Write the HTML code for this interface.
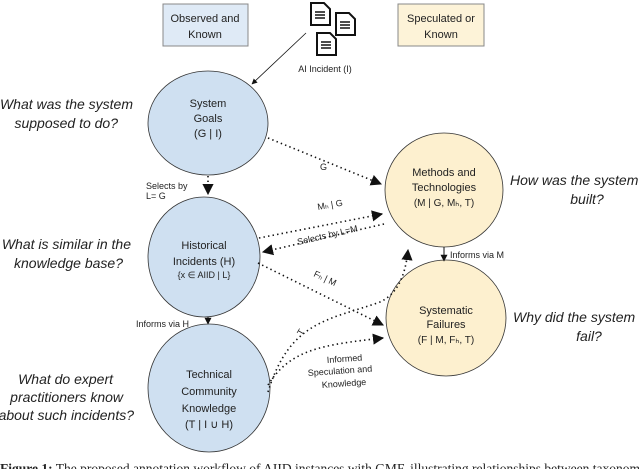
<!DOCTYPE html>
<html><head><meta charset="utf-8"><style>
html,body{margin:0;padding:0;background:#fff;}
svg{display:block;}
text{font-family:"Liberation Sans",sans-serif;fill:#222;}
.q{font-style:italic;font-size:14px;fill:#222;}
.n{font-size:11px;text-anchor:middle;}
.s{font-size:9px;}
.d{fill:none;stroke:#111;stroke-width:1.6;stroke-dasharray:1.4 3.2;}
</style></head><body>
<svg width="640" height="469" viewBox="0 0 640 469" xmlns="http://www.w3.org/2000/svg">
<defs><marker id="a" viewBox="0 0 10 10" refX="9" refY="5" markerWidth="7" markerHeight="7" orient="auto"><path d="M0,0L10,5L0,10z" fill="#111"/></marker></defs>
<rect x="163" y="4" width="85" height="42" fill="#dfeaf6" stroke="#888" stroke-width="1"/>
<text class="n" x="205" y="22">Observed and</text><text class="n" x="205" y="38">Known</text>
<rect x="398" y="4" width="86" height="42" fill="#fdf3d8" stroke="#888" stroke-width="1"/>
<text class="n" x="441" y="22">Speculated or</text><text class="n" x="441" y="38">Known</text>
<g fill="#fff" stroke="#111" stroke-width="2">
<path d="M311,3h13l6,6v16h-19z"/><path d="M336,13h13l6,6v16h-19z"/><path d="M317,33h13l6,6v16h-19z"/>
</g>
<g stroke="#111" stroke-width="1.5"><path d="M315,12h10M315,15h10M315,18h10M340,22h10M340,25h10M340,28h10M321,42h10M321,45h10M321,48h10"/></g>
<text x="325" y="72" class="n" style="font-size:9px">AI Incident (I)</text>
<line x1="306" y1="33" x2="252" y2="84" stroke="#111" stroke-width="0.8" marker-end="url(#a)"/>
<ellipse cx="208" cy="123" rx="60" ry="52" fill="#cfe0f1" stroke="#333" stroke-width="0.8"/>
<ellipse cx="204" cy="257" rx="56" ry="60" fill="#cfe0f1" stroke="#333" stroke-width="0.8"/>
<ellipse cx="209" cy="388" rx="61" ry="64" fill="#cfe0f1" stroke="#333" stroke-width="0.8"/>
<ellipse cx="444" cy="190" rx="59" ry="57" fill="#fdf0cf" stroke="#333" stroke-width="0.8"/>
<ellipse cx="446" cy="318" rx="60" ry="58" fill="#fdf0cf" stroke="#333" stroke-width="0.8"/>
<text class="n" x="208" y="107">System</text><text class="n" x="208" y="122">Goals</text><text class="n" x="208" y="137">(G | I)</text>
<text class="n" x="204" y="249">Historical</text><text class="n" x="204" y="265">Incidents (H)</text><text class="n" x="204" y="278" style="font-size:9px">{x ∈ AIID | L}</text>
<text class="n" x="209" y="378">Technical</text><text class="n" x="209" y="395">Community</text><text class="n" x="209" y="412">Knowledge</text><text class="n" x="209" y="428">(T | I ∪ H)</text>
<text class="n" x="444" y="176">Methods and</text><text class="n" x="444" y="191">Technologies</text><text class="n" x="444" y="206" style="font-size:10px">(M | G, Mₕ, T)</text>
<text class="n" x="446" y="314">Systematic</text><text class="n" x="446" y="328">Failures</text><text class="n" x="446" y="343" style="font-size:10px">(F | M, Fₕ, T)</text>
<text class="q" x="133" y="109" text-anchor="end">What was the system</text><text class="q" x="118" y="128" text-anchor="end">supposed to do?</text>
<text class="q" x="131" y="249" text-anchor="end">What is similar in the</text><text class="q" x="123" y="268" text-anchor="end">knowledge base?</text>
<text class="q" x="113" y="384" text-anchor="end">What do expert</text><text class="q" x="123" y="402" text-anchor="end">practitioners know</text><text class="q" x="134" y="420" text-anchor="end">about such incidents?</text>
<text class="q" x="510" y="185">How was the system</text><text class="q" x="587" y="204" text-anchor="middle">built?</text>
<text class="q" x="513" y="322">Why did the system</text><text class="q" x="589" y="341" text-anchor="middle">fail?</text>
<line class="d" x1="268" y1="138" x2="381" y2="184" marker-end="url(#a)"/>
<text class="s" x="320" y="170">G</text>
<line class="d" x1="208" y1="176" x2="208" y2="194" marker-end="url(#a)"/>
<text class="s" x="146" y="189">Selects by</text><text class="s" x="146" y="199">L= G</text>
<line class="d" x1="259" y1="238" x2="382" y2="214" marker-end="url(#a)"/>
<text class="s" x="318" y="210" transform="rotate(-10 318 210)">Mₕ | G</text>
<line class="d" x1="384" y1="224" x2="263" y2="252" marker-end="url(#a)"/>
<text class="s" x="298" y="245" transform="rotate(-13 298 245)">Selects by L=M</text>
<line class="d" x1="258" y1="263" x2="383" y2="325" marker-end="url(#a)"/>
<text class="s" x="313" y="276" transform="rotate(25 313 276)">Fₕ | M</text>
<line x1="208" y1="317" x2="208" y2="324" stroke="#111" stroke-width="1" marker-end="url(#a)"/>
<text class="s" x="136" y="327">Informs via H</text>
<line x1="444" y1="247" x2="444" y2="261" stroke="#111" stroke-width="1" marker-end="url(#a)"/>
<text class="s" x="450" y="258">Informs via M</text>
<path class="d" d="M268,392 C290,320 330,320 380,302 C395,295 405,280 408,250" marker-end="url(#a)"/>
<path class="d" d="M268,385 C290,350 320,345 383,338" marker-end="url(#a)"/>
<text class="s" x="302" y="336" transform="rotate(-60 302 336)">T</text>
<text class="s" x="327" y="363" transform="rotate(-4 327 363)">Informed</text>
<text class="s" x="308" y="376" transform="rotate(-4 308 376)">Speculation and</text>
<text class="s" x="322" y="388" transform="rotate(-4 322 388)">Knowledge</text>
<text x="0" y="473" style="font-family:'Liberation Serif',serif;font-size:13.5px;fill:#222"><tspan font-weight="bold">Figure 1:</tspan> The proposed annotation workflow of AIID instances with GMF, illustrating relationships between taxonomic</text>
</svg>
</body></html>
